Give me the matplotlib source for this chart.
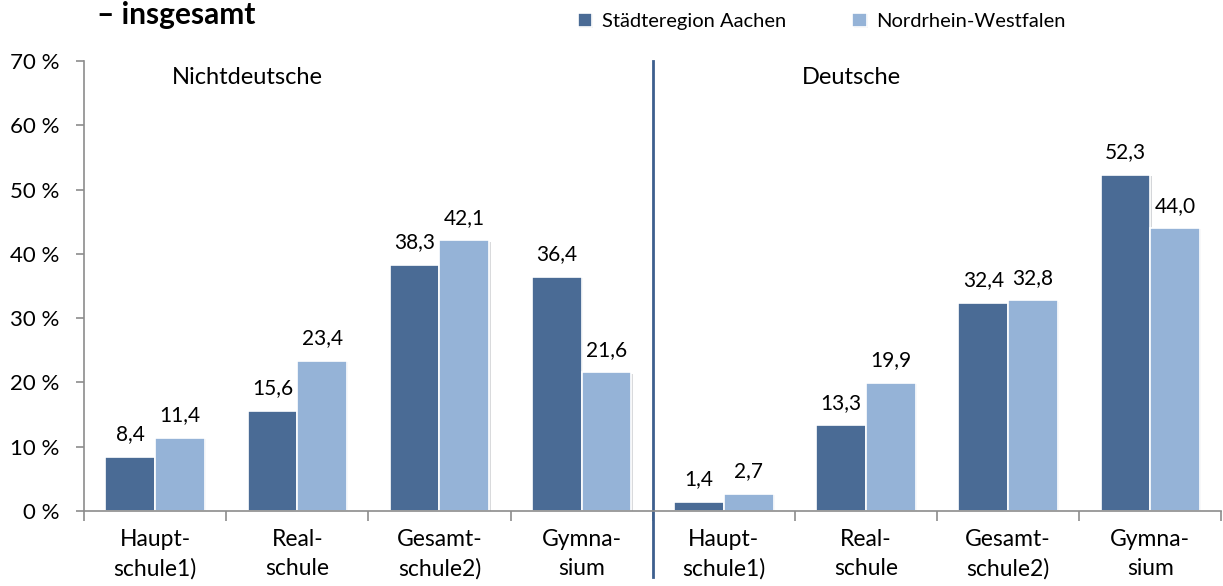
import matplotlib
matplotlib.use("Agg")
import matplotlib.pyplot as plt
import matplotlib.patheffects as pe
import numpy as np

plt.rcParams['font.family'] = ['Lato', 'DejaVu Sans']

categories = ["Haupt-\nschule1)", "Real-\nschule", "Gesamt-\nschule2)", "Gymna-\nsium",
              "Haupt-\nschule1)", "Real-\nschule", "Gesamt-\nschule2)", "Gymna-\nsium"]
aachen = [8.4, 15.6, 38.3, 36.4, 1.4, 13.3, 32.4, 52.3]
nrw = [11.4, 23.4, 42.1, 21.6, 2.7, 19.9, 32.8, 44.0]
series_names = ["Städteregion Aachen", "Nordrhein-Westfalen"]
group_names = ["Nichtdeutsche", "Deutsche"]
title = "– insgesamt"

dark = "#4A6B95"
light = "#95B3D7"
grey = "#8C8C8C"

fig = plt.figure(figsize=(12.23, 5.86), dpi=100)
ax = fig.add_axes([0.0687, 0.128, 0.93, 0.768])

x = np.arange(len(categories))
w = 0.35
shadow = [pe.SimplePatchShadow(offset=(1, -1), alpha=0.18), pe.Normal()]
b1 = ax.bar(x - w / 2, aachen, w, color=dark, edgecolor="white", linewidth=1.2,
            label=series_names[0], path_effects=shadow)
b2 = ax.bar(x + w / 2, nrw, w, color=light, edgecolor="white", linewidth=1.2,
            label=series_names[1], path_effects=shadow)

for bars, vals in ((b1, aachen), (b2, nrw)):
    for rect, v in zip(bars, vals):
        ax.annotate(f"{v:.1f}".replace(".", ","),
                    (rect.get_x() + rect.get_width() / 2, v),
                    xytext=(0, 9), textcoords="offset points",
                    ha="center", va="bottom", fontsize=15)

ax.set_xlim(-0.5, len(categories) - 0.5)
ax.set_ylim(0, 70)
ax.set_yticks(range(0, 71, 10))
ax.set_yticklabels([f"{t} %" for t in range(0, 71, 10)], fontsize=16)
ax.set_xticks(x)
ax.set_xticklabels(categories, fontsize=16.5, linespacing=1.45)
ax.set_xticks(np.arange(-0.5, len(categories)), minor=True)
ax.tick_params(axis="x", which="major", length=0, pad=13)
ax.tick_params(axis="x", which="minor", length=7, color=grey, width=1.2)
ax.tick_params(axis="y", length=6, color=grey, width=1.2, pad=12)

for s in ("top", "right"):
    ax.spines[s].set_visible(False)
for s in ("left", "bottom"):
    ax.spines[s].set_color(grey)
    ax.spines[s].set_linewidth(1.2)

# divider between the two groups
ax.plot([3.5, 3.5], [70, -10.3], color="#3D5F8E", lw=2, clip_on=False)

ax.text(0.65, 67.5, group_names[0], ha="center", va="center", fontsize=17)
ax.text(4.9, 67.5, group_names[1], ha="center", va="center", fontsize=17)

fig.text(0.079, 0.974, title, fontsize=21.5, fontweight="bold", ha="left", va="center")

ax.legend(loc="upper left", bbox_to_anchor=(0.418, 1.147), ncol=2, frameon=False,
          fontsize=14.5, handlelength=0.7, handleheight=0.7, handletextpad=0.5,
          columnspacing=3.3)

fig.savefig("out.png", dpi=100)
